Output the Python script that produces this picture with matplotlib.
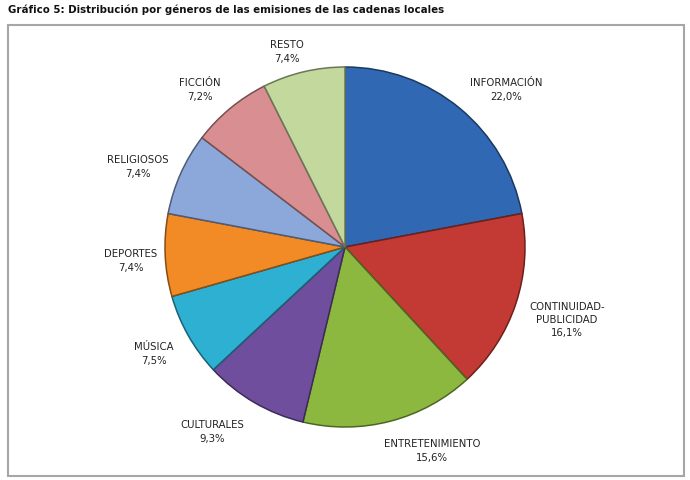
import matplotlib.pyplot as plt
from matplotlib.patches import Rectangle
from matplotlib.colors import to_rgb

generos = ["INFORMACIÓN", "CONTINUIDAD-\nPUBLICIDAD", "ENTRETENIMIENTO", "CULTURALES",
           "MÚSICA", "DEPORTES", "RELIGIOSOS", "FICCIÓN", "RESTO"]
porcentajes = [22.0, 16.1, 15.6, 9.3, 7.5, 7.4, 7.4, 7.2, 7.4]
etiquetas = ["22,0%", "16,1%", "15,6%", "9,3%", "7,5%", "7,4%", "7,4%", "7,2%", "7,4%"]

colores = ["#3068b3", "#c23a33", "#8db840", "#6f4e9e", "#2eb0d2",
           "#f28b25", "#8ca8da", "#d98f92", "#c3d89c"]
# label centres in pixels (from top-left)
pos_etiq = [(506, 90), (567, 320), (432, 451), (212, 432), (154, 354),
            (131, 261), (138, 167), (200, 90), (287, 52)]

W, H = 690, 481
fig = plt.figure(figsize=(W / 100, H / 100), dpi=100)
ax = fig.add_axes([0, 0, 1, 1])

ax.add_patch(Rectangle((8, H - 477), 676, 451, fill=False, edgecolor="#a6a6a6", linewidth=1.5))

wedges, _ = ax.pie(porcentajes, colors=colores, startangle=90, counterclock=False,
                   center=(345, H - 248), radius=180, frame=True,
                   wedgeprops=dict(linewidth=1.1))
for w, c in zip(wedges, colores):
    w.set_edgecolor([v * 0.55 for v in to_rgb(c)])
ax.set_xlim(0, W)
ax.set_ylim(0, H)
ax.set_aspect("equal")
ax.axis("off")

for g, e, (x, y) in zip(generos, etiquetas, pos_etiq):
    ax.text(x, H - y, g + "\n" + e, ha="center", va="center", fontsize=8.1,
            family="DejaVu Sans", fontstretch="condensed", color="#222222", linespacing=1.4)

fig.text(8 / W, 1 - 10 / H, "Gráfico 5: Distribución por géneros de las emisiones de las cadenas locales",
         ha="left", va="center", fontsize=8.2, fontweight="bold", family="DejaVu Sans",
         fontstretch="condensed", color="#111111")

fig.savefig("out.png", dpi=100)
